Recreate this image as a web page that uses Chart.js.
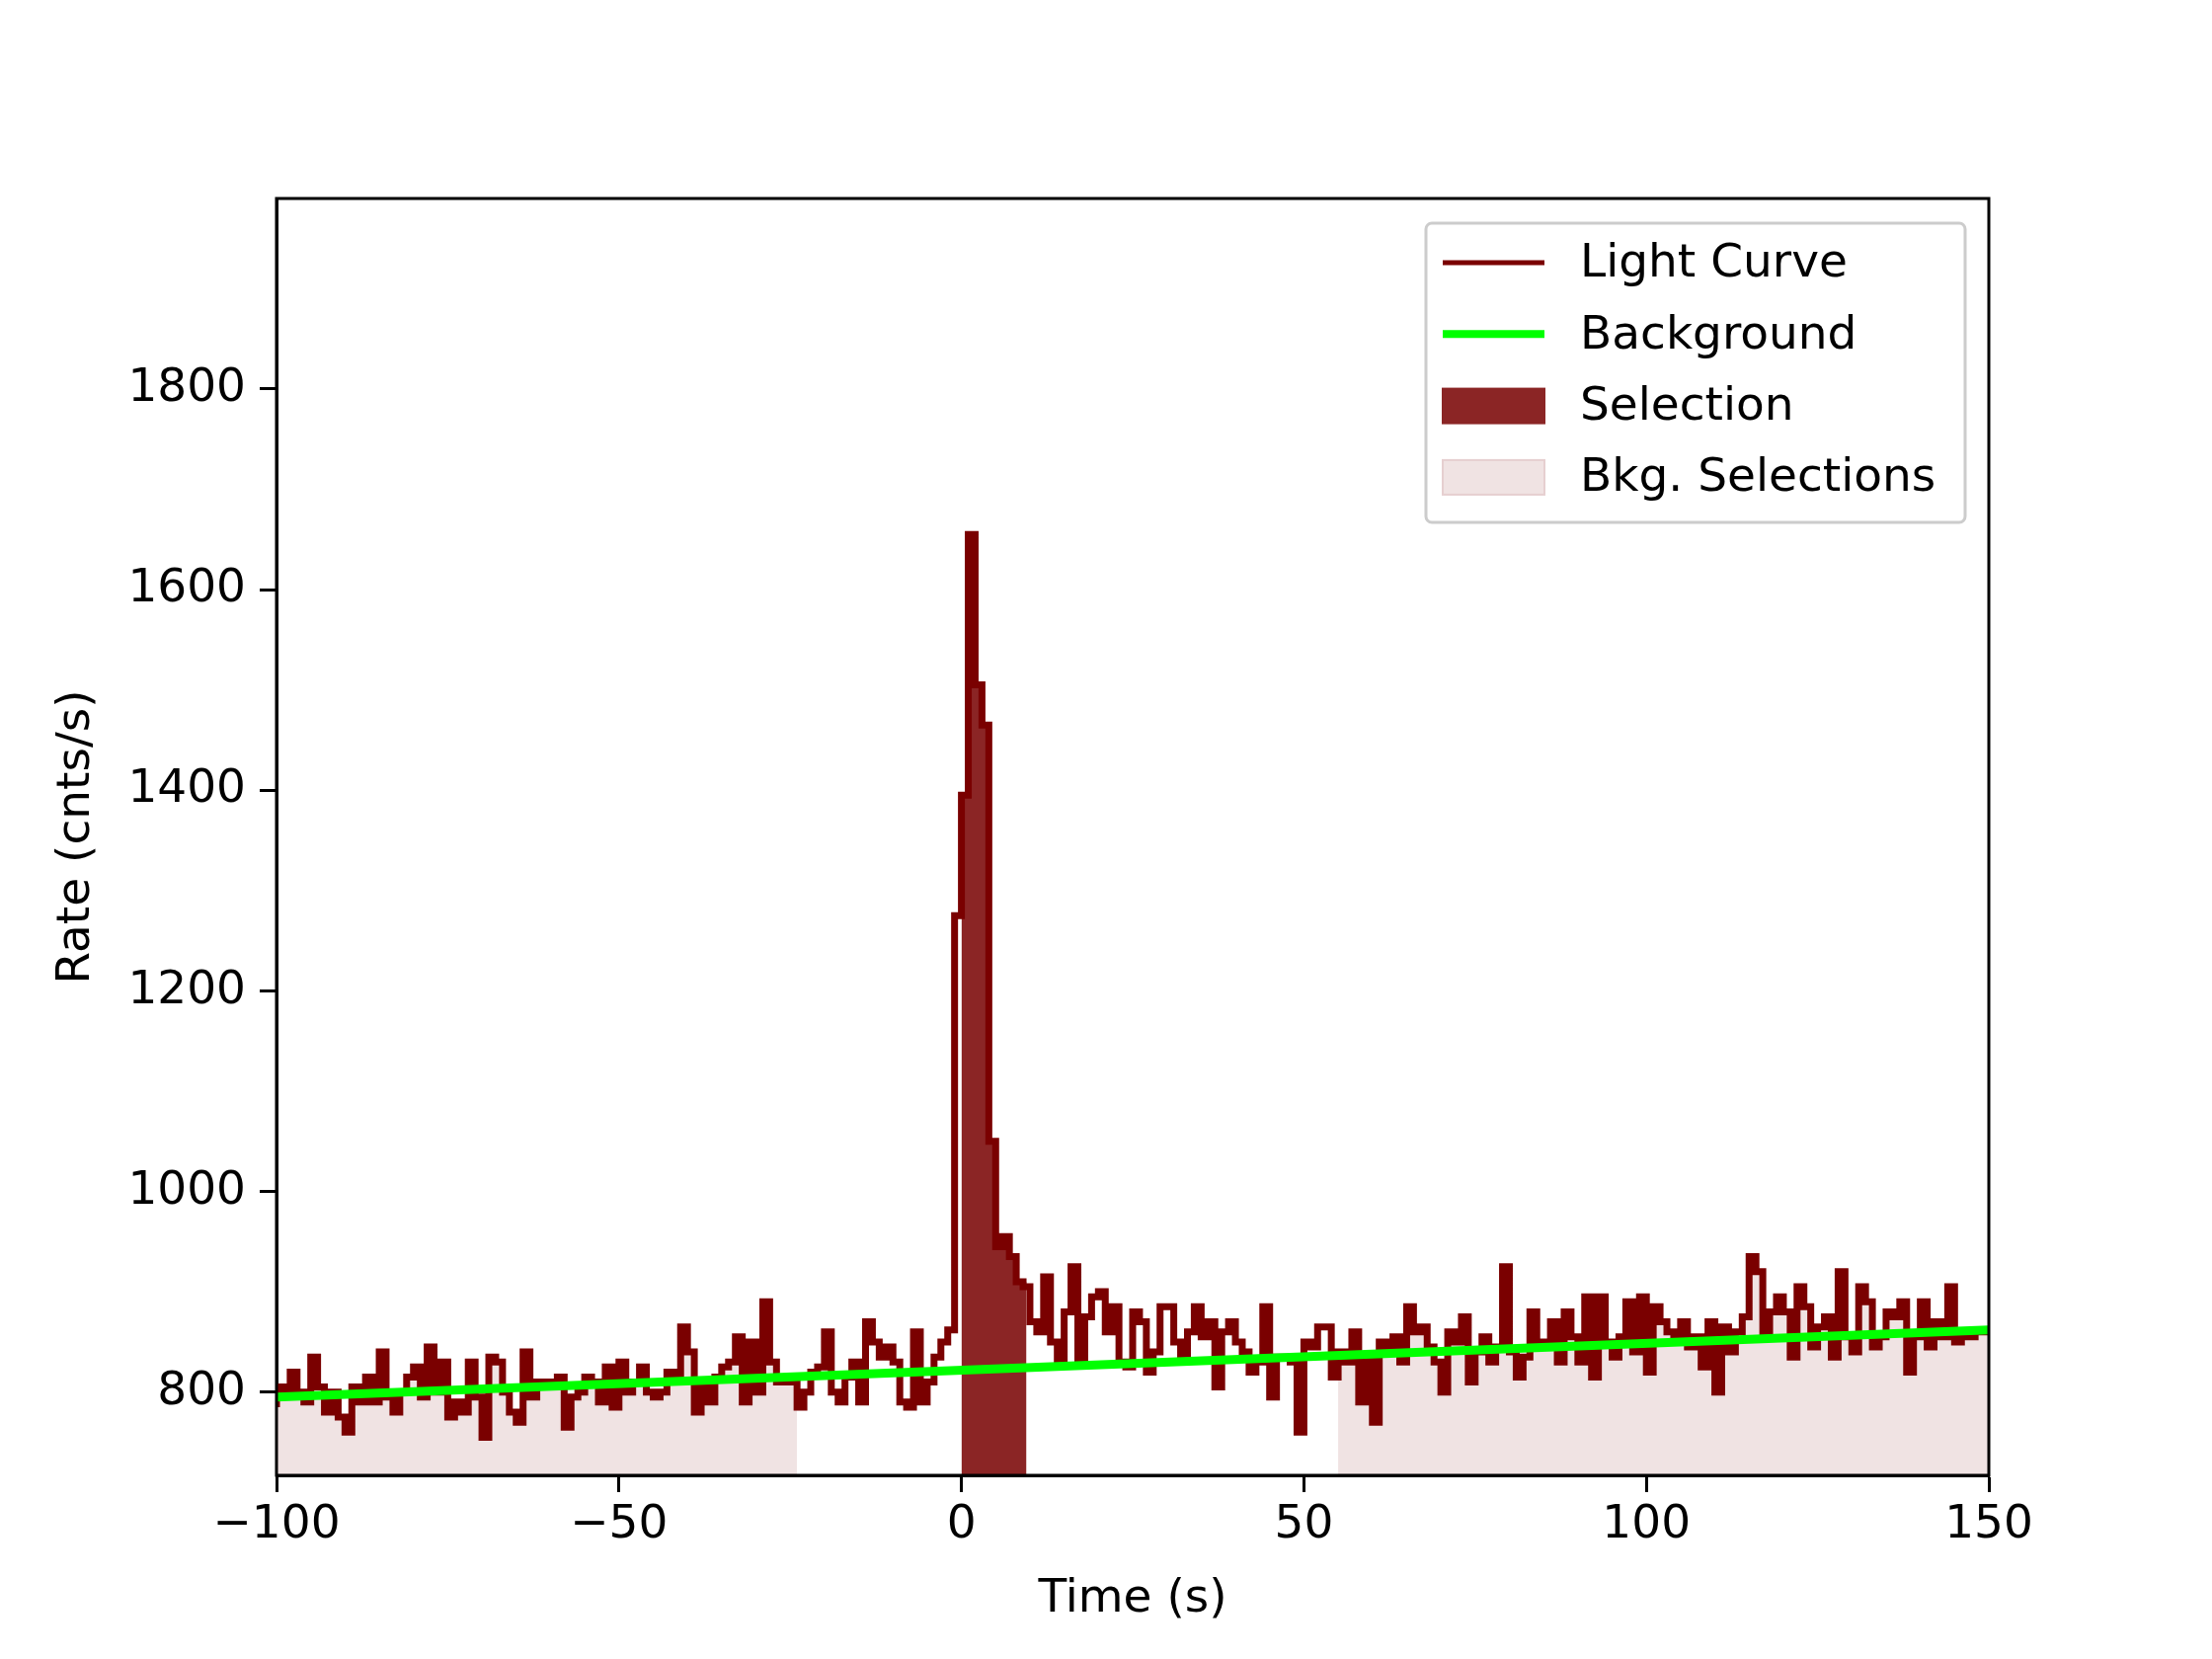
<!DOCTYPE html>
<html><head><meta charset="utf-8">
<script src="https://cdn.jsdelivr.net/npm/chart.js@4"></script>
<style>html,body{margin:0;padding:0;background:#fff}#wrap{width:2240px;height:1680px}</style>
</head><body><div id="wrap"><canvas id="c" width="2240" height="1680"></canvas></div>
<script>
const binStart = -100;
const binWidth = 1;
const rates = [
785,805,800,820,800,790,835,805,780,800,
775,760,805,790,815,790,840,795,780,800,
815,825,795,845,800,830,775,790,780,830,
795,755,835,830,800,780,770,840,795,810,
810,805,815,765,795,800,815,810,790,825,
785,830,800,810,825,800,795,800,820,810,
865,840,780,810,790,815,825,830,855,790,
850,800,890,830,810,810,815,785,800,820,
825,860,800,790,815,830,790,870,850,835,
845,830,790,785,860,790,810,835,850,862,
1275,1395,1655,1505,1465,1050,945,955,935,910,
905,870,860,915,850,830,880,925,830,875,
895,900,860,885,830,825,880,870,820,840,
885,885,850,835,860,885,855,870,805,860,
870,850,840,820,830,885,795,835,835,830,
760,850,845,865,865,815,840,830,860,790,
835,770,850,840,855,830,885,860,865,845,
830,800,860,850,875,810,840,855,830,845,
925,840,815,835,880,850,845,870,830,880,
855,830,895,815,895,850,835,855,890,840,
895,820,885,870,860,850,870,845,855,825,
870,800,865,840,860,875,935,920,855,880,
895,880,835,905,885,845,865,875,835,920,
855,840,905,890,845,855,880,875,890,820,
855,890,845,870,855,905,850,860,855,860];
const bkgLine = [[-100,795],[150,862]];
const selection = [0, 9.5];
const bkgSelections = [[-100,-24],[55,150]];
const xTicks = [-100,-50,0,50,100,150];
const yTicks = [800,1000,1200,1400,1600,1800];

const curve = rates.map((v,i)=>({x:binStart+i*binWidth,y:v}));
curve.push({x:binStart+rates.length*binWidth,y:rates[rates.length-1]});
function rateAt(t){let i=Math.floor((t-binStart)/binWidth);i=Math.max(0,Math.min(rates.length-1,i));return rates[i];}
function segment(a,b){const pts=[];for(let i=0;i<rates.length;i++){const t0=binStart+i*binWidth,t1=t0+binWidth;if(t1<=a||t0>=b)continue;pts.push({x:Math.max(t0,a),y:rates[i]});}pts.push({x:b,y:rateAt(b-0.001)});return pts;}

const FONT='"DejaVu Sans"';
const legendItems=[
 {label:'Light Curve',type:'line',color:'#7a0000',w:5},
 {label:'Background',type:'line',color:'#00ff00',w:8},
 {label:'Selection',type:'box',color:'#8b2525',edge:'#8b2525'},
 {label:'Bkg. Selections',type:'box',color:'#f0e3e3',edge:'#e6cfd0'}];
const legendPlugin={id:'lg',afterDraw(ch){const c=ch.ctx;c.save();
 const x=1444,y=226,w=546,h=303;
 c.fillStyle='rgba(255,255,255,0.8)';c.strokeStyle='#cccccc';c.lineWidth=3;
 c.beginPath();c.roundRect(x,y,w,h,6);c.fill();c.stroke();
 c.font='47px '+FONT;c.textBaseline='middle';
 legendItems.forEach((it,i)=>{const cy=266+i*72.3;
  if(it.type==='line'){c.strokeStyle=it.color;c.lineWidth=it.w;c.beginPath();c.moveTo(1461,cy);c.lineTo(1564,cy);c.stroke();}
  else{c.fillStyle=it.color;c.fillRect(1461,cy-17,103,35);c.strokeStyle=it.edge;c.lineWidth=2;c.strokeRect(1461,cy-17,103,35);}
  c.fillStyle='#000';c.fillText(it.label,1600,cy+2);});
 c.restore();}};

const ds=[];
bkgSelections.forEach(r=>ds.push({data:segment(r[0],r[1]),stepped:'after',fill:'start',backgroundColor:'#f0e3e3',borderWidth:0,pointRadius:0,order:5}));
ds.push({data:segment(selection[0],selection[1]),stepped:'after',fill:'start',backgroundColor:'#8b2525',borderWidth:0,pointRadius:0,order:4});
ds.push({data:curve,stepped:'after',borderColor:'#7a0000',borderWidth:7,pointRadius:0,fill:false,order:2});
ds.push({data:bkgLine.map(p=>({x:p[0],y:p[1]})),borderColor:'#00ff00',borderWidth:9,pointRadius:0,fill:false,order:1});

new Chart(document.getElementById('c'),{type:'line',data:{datasets:ds},
options:{responsive:false,animation:false,devicePixelRatio:1,
 layout:{padding:{top:201,right:226,left:46,bottom:28}},
 plugins:{legend:{display:false},tooltip:{enabled:false}},
 scales:{
  x:{type:'linear',min:-100,max:150,afterFit:s=>{s.height=158;},
   afterBuildTicks:s=>{s.ticks=xTicks.map(v=>({value:v}));},
   ticks:{font:{family:FONT,size:47},color:'#000',padding:6,callback:v=>String(v).replace('-','\u2212'),maxRotation:0},
   grid:{drawOnChartArea:false,drawTicks:true,tickLength:17,tickWidth:3,tickColor:'#000'},
   border:{color:'#000',width:3},
   title:{display:true,text:'Time (s)',font:{family:FONT,size:47},color:'#000',padding:{top:0}}},
  y:{min:717,max:1990,afterFit:s=>{s.width=234;},
   afterBuildTicks:s=>{s.ticks=yTicks.map(v=>({value:v}));},
   ticks:{font:{family:FONT,size:47},color:'#000',padding:14,callback:v=>String(v)},
   grid:{drawOnChartArea:false,drawTicks:true,tickLength:17,tickWidth:3,tickColor:'#000'},
   border:{color:'#000',width:3},
   title:{display:true,text:'Rate (cnts/s)',font:{family:FONT,size:47},color:'#000',padding:{bottom:0}}}}},
 plugins:[legendPlugin,{id:'frame',afterDraw(ch){const a=ch.chartArea,c=ch.ctx;c.save();c.strokeStyle='#000';c.lineWidth=3;c.strokeRect(a.left,a.top,a.right-a.left,a.bottom-a.top);c.restore();}}]});
</script></body></html>
